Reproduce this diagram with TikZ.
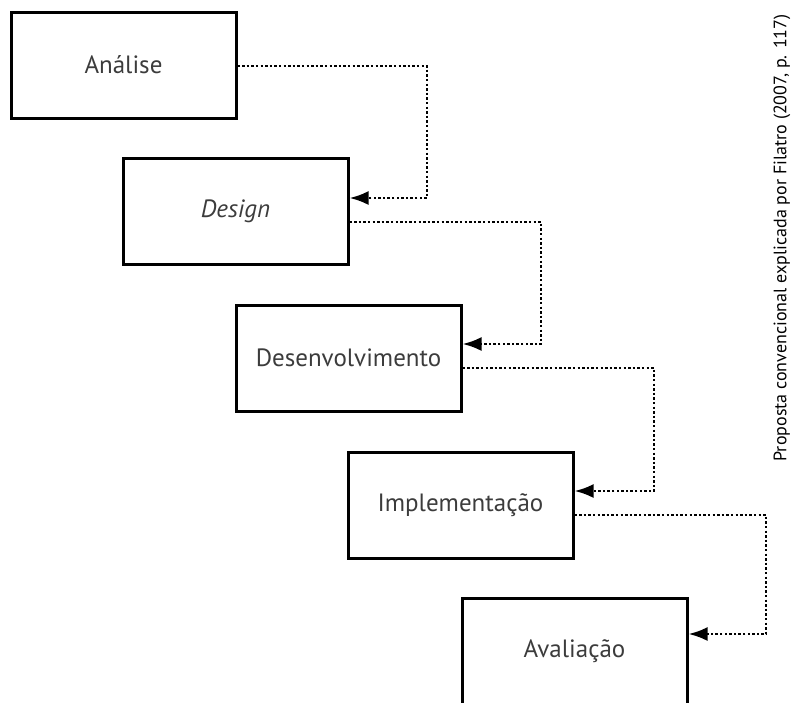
\documentclass[tikz,border=0pt]{standalone}
\usepackage{fontspec}
\setmainfont{PT Sans}
\usetikzlibrary{arrows.meta,calc}
\definecolor{txtgray}{HTML}{3C3C3C}
\tikzset{
  stage/.style={draw=black, line width=3pt, minimum width=225pt, minimum height=106pt,
    inner sep=0pt, text=txtgray, font=\fontsize{25}{28}\selectfont},
  flow/.style={line width=2.6pt, dash pattern=on 2.4pt off 2.2pt,
    -{Latex[length=19pt,width=14pt]}},
}
\begin{document}
\begin{tikzpicture}[x=1pt,y=1pt]
  \useasboundingbox (0,0) rectangle (792,-702);
  \clip (0,0) rectangle (792,-702);

  % the five stages, stepping down to the right
  \node[stage] (s1) at (123.5,-65)  {Análise};
  \node[stage] (s2) at (235.5,-211) {\itshape Design};
  \node[stage] (s3) at (348.5,-358) {Desenvolvimento};
  \node[stage] (s4) at (460.5,-505) {Implementação};
  \node[stage] (s5) at (574.5,-651) {Avaliação};

  % turning points of the dotted connectors
  \coordinate (k1) at (427,-198);
  \coordinate (k2) at (541,-344);
  \coordinate (k3) at (654,-491);
  \coordinate (k4) at (766,-634);

  \coordinate (o1) at ($(s1.east)+(0,-1)$);
  \coordinate (o2) at ($(s2.east)+(0,-11)$);
  \coordinate (o3) at ($(s3.east)+(0,-10)$);
  \coordinate (o4) at ($(s4.east)+(0,-10)$);

  \draw[flow] (o1) -- (o1 -| k1) -- (k1) -- (s2.east |- k1);
  \draw[flow] (o2) -- (o2 -| k2) -- (k2) -- (s3.east |- k2);
  \draw[flow] (o3) -- (o3 -| k3) -- (k3) -- (s4.east |- k3);
  \draw[flow] (o4) -- (o4 -| k4) -- (k4) -- (s5.east |- k4);

  % source note along the right margin
  \node[rotate=90, text=black, inner sep=0pt, font=\fontsize{18}{21}\selectfont] (src) at (782,-238)
    {Proposta convencional explicada por Filatro (2007, p. 117)};
\end{tikzpicture}
\end{document}
